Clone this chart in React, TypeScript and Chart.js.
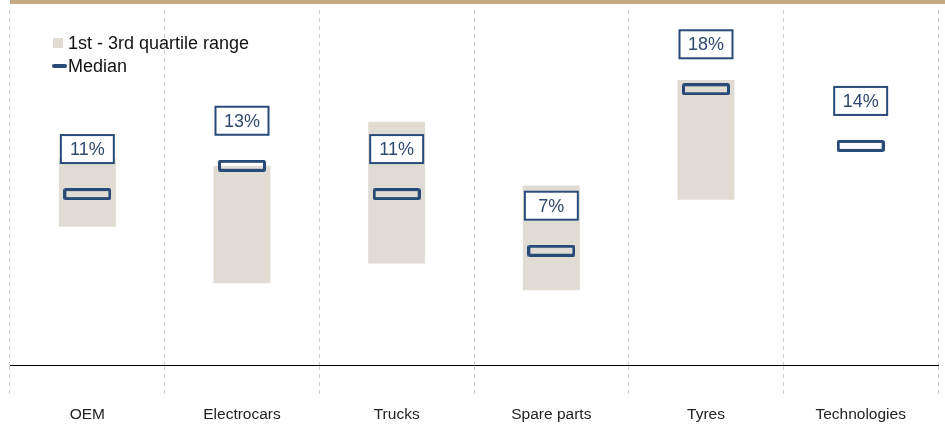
import React, { useEffect, useRef } from "react";
import { Chart, registerables } from "chart.js";

Chart.register(...registerables);

const categories = ["OEM", "Electrocars", "Trucks", "Spare parts", "Tyres", "Technologies"];
const q1Values: (number | null)[] = [8.7, 4.7, 6.1, 4.2, 10.6, null];
const q3Values: (number | null)[] = [13.5, 13.0, 16.1, 11.6, 19.05, null];
const medianValues = [11, 13, 11, 7, 18.4, 14.4];
const legendLabels = ["1st - 3rd quartile range", "Median"];

const NAVY = "#284a78";
const BEIGE = "#e0dcd3";
const GOLD = "#c5a983";
const FONT = "'Liberation Sans', Arial, sans-serif";

function makeMedianMarker(): HTMLCanvasElement {
  const c = document.createElement("canvas");
  c.width = 48;
  c.height = 12;
  const ctx = c.getContext("2d")!;
  ctx.strokeStyle = NAVY;
  ctx.lineWidth = 3;
  ctx.lineJoin = "round";
  ctx.beginPath();
  ctx.moveTo(2.5, 1.5);
  ctx.lineTo(45.5, 1.5);
  ctx.quadraticCurveTo(46.5, 1.5, 46.5, 2.5);
  ctx.lineTo(46.5, 9.5);
  ctx.quadraticCurveTo(46.5, 10.5, 45.5, 10.5);
  ctx.lineTo(2.5, 10.5);
  ctx.quadraticCurveTo(1.5, 10.5, 1.5, 9.5);
  ctx.lineTo(1.5, 2.5);
  ctx.quadraticCurveTo(1.5, 1.5, 2.5, 1.5);
  ctx.closePath();
  ctx.stroke();
  return c;
}

const decorPlugin = {
  id: "decor",
  beforeDraw(chart: any) {
    const ctx = chart.ctx;
    ctx.save();
    ctx.fillStyle = GOLD;
    ctx.fillRect(10, 0, chart.width - 10, 4);
    ctx.restore();
  },
  afterDatasetsDraw(chart: any) {
    const ctx = chart.ctx;
    const meta = chart.getDatasetMeta(1);
    ctx.save();
    meta.data.forEach((pt: any, i: number) => {
      const v = medianValues[i];
      const w = 55;
      const h = 30;
      const x = pt.x - w / 2;
      const yBottom = pt.y - 30;
      ctx.fillStyle = "#ffffff";
      ctx.fillRect(x, yBottom - h, w, h);
      ctx.strokeStyle = NAVY;
      ctx.lineWidth = 2;
      ctx.strokeRect(x + 1, yBottom - h + 1, w - 2, h - 2);
      ctx.fillStyle = "#2f4a70";
      ctx.font = `18px ${FONT}`;
      ctx.textAlign = "center";
      ctx.textBaseline = "middle";
      ctx.fillText(Math.round(v) + "%", pt.x, yBottom - h / 2 + 1);
    });
    // legend
    ctx.fillStyle = BEIGE;
    ctx.fillRect(53, 38, 10, 10);
    ctx.strokeStyle = NAVY;
    ctx.lineWidth = 4;
    ctx.lineCap = "round";
    ctx.beginPath();
    ctx.moveTo(54, 66);
    ctx.lineTo(65, 66);
    ctx.stroke();
    ctx.fillStyle = "#111111";
    ctx.font = `18px ${FONT}`;
    ctx.textAlign = "left";
    ctx.textBaseline = "middle";
    ctx.fillText(legendLabels[0], 68, 44);
    ctx.fillText(legendLabels[1], 68, 67);
    ctx.restore();
  },
};

export default function App() {
  const ref = useRef<HTMLCanvasElement>(null);
  useEffect(() => {
    if (!ref.current) return;
    const marker = makeMedianMarker();
    const rangeData = q1Values.map((lo, i) =>
      lo === null || q3Values[i] === null ? null : [lo, q3Values[i] as number]
    );
    const chart = new Chart(ref.current, {
      type: "bar",
      data: {
        labels: categories,
        datasets: [
          {
            type: "bar",
            label: legendLabels[0],
            data: rangeData as any,
            backgroundColor: BEIGE,
            borderWidth: 0,
            categoryPercentage: 1,
            barPercentage: 0.368,
            order: 2,
          },
          {
            type: "line",
            label: legendLabels[1],
            data: medianValues,
            showLine: false,
            pointStyle: marker as any,
            pointRadius: 3,
            pointHoverRadius: 3,
            order: 1,
          } as any,
        ],
      },
      options: {
        animation: false,
        responsive: false,
        maintainAspectRatio: false,
        layout: { padding: { left: 10, right: 7, top: 10, bottom: 4 } },
        plugins: {
          legend: { display: false },
          tooltip: { enabled: false },
        },
        scales: {
          x: {
            offset: true,
            grid: {
              offset: true,
              color: "#cccccc",
              lineWidth: 1,
              drawTicks: true,
              tickLength: 28,
              tickColor: "#cccccc",
              tickBorderDash: [4, 4],
            },
            border: { display: true, color: "#000000", width: 1, dash: [4, 4] },
            ticks: {
              color: "#222222",
              padding: 12,
              font: { family: FONT, size: 15.5 },
            },
          },
          y: {
            display: false,
            min: -1.1,
            max: 24,
          },
        },
      },
      plugins: [decorPlugin],
    });
    return () => chart.destroy();
  }, []);
  return (
    <div style={{ position: "fixed", left: 0, top: 0, width: 945, height: 426, overflow: "hidden", background: "#fff" }}>
      <canvas ref={ref} width={945} height={440} style={{ display: "block" }} />
    </div>
  );
}
